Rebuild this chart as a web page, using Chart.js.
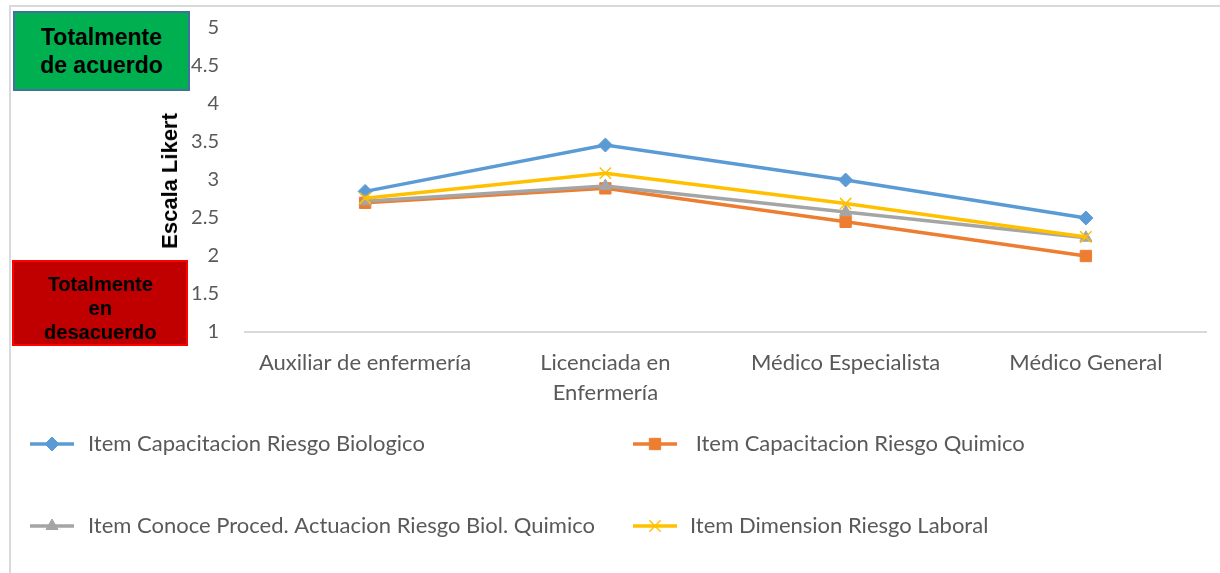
<!DOCTYPE html>
<html>
<head>
<meta charset="utf-8">
<script src="https://cdn.jsdelivr.net/npm/chart.js@4/dist/chart.umd.min.js"></script>
<style>
  body { margin: 0; background: #fff; }
  #marco { position: absolute; left: 0; top: 0; width: 1220px; height: 573px; }
  #borde { position: absolute; left: 9px; top: 5px; right: 0; bottom: 0; border-top: 2px solid #D9D9D9; border-left: 2px solid #D9D9D9; }
  .caja { position: absolute; box-sizing: border-box; font-family: "Liberation Sans", Arial, sans-serif; font-weight: bold; color: #000; text-align: center; display: flex; align-items: center; justify-content: center; }
  #acuerdo { left: 13px; top: 11px; width: 177px; height: 80px; background: #00B050; border: 2px solid #41719C; font-size: 23px; line-height: 28px; }
  #desacuerdo { left: 12px; top: 260px; width: 176px; height: 86px; background: #C00000; border: 2px solid #FF0000; font-size: 20px; line-height: 24px; padding-top: 10px; }
  #titulo { position: absolute; left: 170px; top: 181px; transform: translate(-50%, -50%) rotate(-90deg); font-family: "Liberation Sans", Arial, sans-serif; font-weight: bold; font-size: 22px; white-space: nowrap; }
  canvas { position: absolute; left: 0; top: 0; }
</style>
</head>
<body>
<div id="marco">
  <div id="borde"></div>
  <canvas id="grafico" width="1220" height="573"></canvas>
  <div class="caja" id="acuerdo">Totalmente<br>de acuerdo</div>
  <div class="caja" id="desacuerdo">Totalmente<br>en<br>desacuerdo</div>
  <div id="titulo">Escala Likert</div>
</div>
<script>
const categorias = ['Auxiliar de enfermería', ['Licenciada en', 'Enfermería'], 'Médico Especialista', 'Médico General'];
const riesgoBiologico = [2.85, 3.46, 3.00, 2.50];
const riesgoQuimico = [2.70, 2.89, 2.45, 2.00];
const conoceProced = [2.72, 2.92, 2.58, 2.24];
const dimensionLaboral = [2.76, 3.09, 2.69, 2.25];

const fuente = 'Lato, "Open Sans", sans-serif';

// leyenda dibujada a mano en dos columnas, como en el original
const leyenda = {
    id: 'leyenda',
    afterDraw(chart) {
        const ctx = chart.ctx;
        const posiciones = [[30, 444, 88], [633, 444, 690], [30, 526, 88], [633, 526, 690]];
        chart.data.datasets.forEach((ds, i) => {
            const [x, y, xt] = posiciones[i];
            ctx.save();
            ctx.strokeStyle = ds.borderColor;
            ctx.fillStyle = ds.borderColor;
            ctx.lineWidth = 3.5;
            ctx.beginPath();
            ctx.moveTo(x, y);
            ctx.lineTo(x + 44, y);
            ctx.stroke();
            ctx.lineWidth = ds.pointBorderWidth;
            Chart.helpers.drawPoint(ctx, {
                pointStyle: ds.pointStyle,
                radius: ds.pointRadius,
                borderWidth: ds.pointBorderWidth
            }, x + 22, y);
            ctx.fillStyle = '#595959';
            ctx.font = '22px ' + fuente;
            ctx.textBaseline = 'middle';
            ctx.fillText(ds.label, xt, y);
            ctx.restore();
        });
    }
};

function serie(label, data, color, estilo, radio, orden) {
    return {
        label: label,
        data: data,
        borderColor: color,
        backgroundColor: color,
        pointBackgroundColor: color,
        pointBorderColor: color,
        borderWidth: 3.5,
        pointStyle: estilo,
        pointRadius: radio,
        pointBorderWidth: estilo === 'crossRot' ? 1.5 : 1,
        tension: 0,
        order: orden
    };
}

let ctx = document.getElementById('grafico').getContext('2d');
window.miGrafico = new Chart(ctx, {
    type: 'line',
    data: {
        labels: categorias,
        datasets: [
            serie('Item Capacitacion Riesgo Biologico', riesgoBiologico, '#5B9BD5', 'rectRot', 7, 4),
            serie(' Item Capacitacion Riesgo Quimico', riesgoQuimico, '#ED7D31', 'rect', 8, 3),
            serie('Item Conoce Proced. Actuacion Riesgo Biol. Quimico', conoceProced, '#A5A5A5', 'triangle', 7, 2),
            serie('Item Dimension Riesgo Laboral', dimensionLaboral, '#FFC000', 'crossRot', 8, 1)
        ]
    },
    options: {
        responsive: false,
        animation: false,
        layout: { padding: { top: 28, right: 14, bottom: 0, left: 0 } },
        plugins: { legend: { display: false }, tooltip: { enabled: false } },
        scales: {
            x: {
                offset: true,
                grid: { display: true, color: 'rgba(0,0,0,0)', drawTicks: false },
                border: { display: true, color: '#D9D9D9', width: 2 },
                ticks: { color: '#595959', font: { family: fuente, size: 22, lineHeight: 1.36 }, padding: 16, maxRotation: 0, autoSkip: false },
                afterFit: s => { s.height = 241; s.paddingTop = 0; s.paddingBottom = 0; }
            },
            y: {
                min: 1,
                max: 5,
                grid: { display: false, drawTicks: false },
                border: { display: false },
                ticks: { stepSize: 0.5, color: '#595959', font: { family: fuente, size: 20 }, padding: 26, callback: v => String(v) },
                afterFit: s => { s.width = 245; s.paddingTop = 0; s.paddingBottom = 0; }
            }
        }
    },
    plugins: [leyenda]
});
</script>
</body>
</html>
